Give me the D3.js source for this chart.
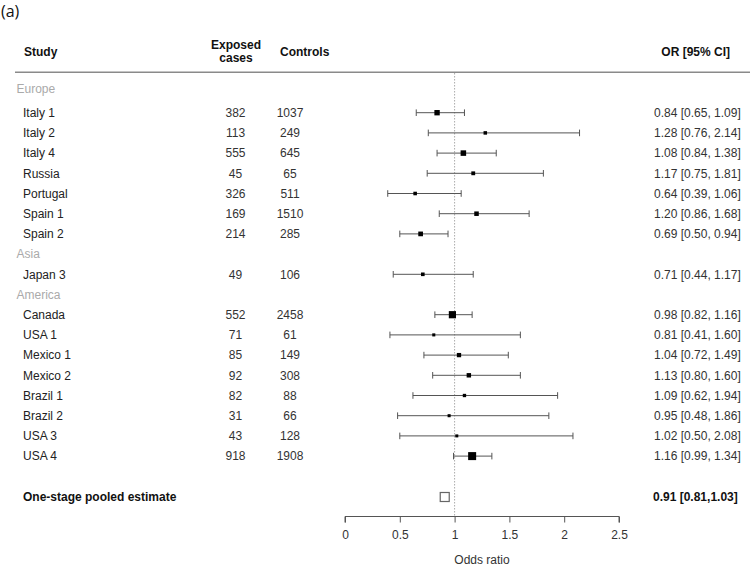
<!DOCTYPE html>
<html><head><meta charset="utf-8">
<script src="https://cdn.jsdelivr.net/npm/d3@7"></script>
<style>
html,body{margin:0;padding:0;background:#fff;}
svg{display:block;font-family:"Liberation Sans",Arial,sans-serif;}
</style></head>
<body><svg id="c" width="750" height="571"></svg>
<script>
// ---- data ----
const groups = ["Europe", "Asia", "America"];
const studies = ["Italy 1","Italy 2","Italy 4","Russia","Portugal","Spain 1","Spain 2",
                 "Japan 3",
                 "Canada","USA 1","Mexico 1","Mexico 2","Brazil 1","Brazil 2","USA 3","USA 4"];
const studyGroup = ["Europe","Europe","Europe","Europe","Europe","Europe","Europe",
                    "Asia",
                    "America","America","America","America","America","America","America","America"];
const exposedCases = [382,113,555,45,326,169,214, 49, 552,71,85,92,82,31,43,918];
const controls     = [1037,249,645,65,511,1510,285, 106, 2458,61,149,308,88,66,128,1908];
const oddsRatio = [0.84,1.28,1.08,1.17,0.64,1.20,0.69, 0.71, 0.98,0.81,1.04,1.13,1.09,0.95,1.02,1.16];
const ciLower   = [0.65,0.76,0.84,0.75,0.39,0.86,0.50, 0.44, 0.82,0.41,0.72,0.80,0.62,0.48,0.50,0.99];
const ciUpper   = [1.09,2.14,1.38,1.81,1.06,1.68,0.94, 1.17, 1.16,1.60,1.49,1.60,1.94,1.86,2.08,1.34];
const pooledLabel = "One-stage pooled estimate";
const pooledOR = 0.91, pooledLower = 0.81, pooledUpper = 1.03;
const axisTicks = [0, 0.5, 1, 1.5, 2, 2.5];

// ---- layout ----
const svg = d3.select("#c");
const x = d3.scaleLinear().domain([0, 2.5]).range([345, 619]);

// row order: group headers + studies
const rows = [];
groups.forEach(g => {
  rows.push({type:"group", label:g});
  studies.forEach((s,i) => { if (studyGroup[i] === g) rows.push({type:"study", i}); });
});
// row index -> y
const y = d3.scaleLinear().domain([1, 19]).range([112.7, 476.3]);
rows.forEach((r,k) => { r.y = y(k); });
rows[0].y = y(0) - 4.3; // Europe header sits slightly higher
const pooledY = 497;

const fmt = d3.format(".2f");
// marker size from precision of the estimate
const precision = studies.map((s,i) => 3.92 / (Math.log(ciUpper[i]) - Math.log(ciLower[i])));
const size = d3.scaleLinear().domain(d3.extent(precision)).range([3, 8]);

// title
svg.append("text").attr("x", 1).attr("y", 17).attr("font-size", 16)
   .attr("font-family", "'Open Sans','Liberation Sans',sans-serif").attr("fill", "#111").text("(a)");

// headers
const hdr = svg.append("g").attr("font-weight", "bold").attr("font-size", 12).attr("fill", "#111");
hdr.append("text").attr("x", 24).attr("y", 56).text("Study");
hdr.append("text").attr("x", 236).attr("y", 49).attr("text-anchor", "middle").text("Exposed");
hdr.append("text").attr("x", 236).attr("y", 62).attr("text-anchor", "middle").text("cases");
hdr.append("text").attr("x", 280).attr("y", 56).text("Controls");
hdr.append("text").attr("x", 730).attr("y", 56).attr("text-anchor", "end").text("OR [95% CI]");

svg.append("line").attr("x1", 15).attr("x2", 750).attr("y1", 72.3).attr("y2", 72.3)
   .attr("stroke", "#8a8a8a").attr("stroke-width", 1.5);

// reference line at OR = 1
svg.append("line").attr("x1", x(1)).attr("x2", x(1)).attr("y1", 73).attr("y2", 516)
   .attr("stroke", "#aaa").attr("stroke-width", 1).attr("stroke-dasharray", "1.5,1.5");

// rows
const g = svg.append("g").attr("font-size", 12);
rows.forEach(r => {
  const ty = r.y + 4.3;
  if (r.type === "group") {
    g.append("text").attr("x", 16.5).attr("y", ty).attr("fill", "#aaa").text(r.label);
    return;
  }
  const i = r.i;
  g.append("text").attr("x", 23).attr("y", ty).attr("fill", "#222").text(studies[i]);
  g.append("text").attr("x", 235.5).attr("y", ty).attr("text-anchor", "middle").attr("fill", "#333").text(exposedCases[i]);
  g.append("text").attr("x", 290).attr("y", ty).attr("text-anchor", "middle").attr("fill", "#333").text(controls[i]);
  g.append("text").attr("x", 654).attr("y", ty).attr("fill", "#333")
    .text(`${fmt(oddsRatio[i])} [${fmt(ciLower[i])}, ${fmt(ciUpper[i])}]`);
  // CI
  const ci = g.append("g").attr("stroke", "#555").attr("stroke-width", 1);
  ci.append("line").attr("x1", x(ciLower[i])).attr("x2", x(ciUpper[i])).attr("y1", r.y).attr("y2", r.y);
  ci.append("line").attr("x1", x(ciLower[i])).attr("x2", x(ciLower[i])).attr("y1", r.y-3.3).attr("y2", r.y+3.3);
  ci.append("line").attr("x1", x(ciUpper[i])).attr("x2", x(ciUpper[i])).attr("y1", r.y-3.3).attr("y2", r.y+3.3);
  const s = size(precision[i]);
  g.append("rect").attr("x", x(oddsRatio[i]) - s/2).attr("y", r.y - s/2)
    .attr("width", s).attr("height", s).attr("fill", "#000");
});

// pooled
svg.append("text").attr("x", 23).attr("y", pooledY + 4).attr("font-size", 12).attr("font-weight", "bold")
   .attr("fill", "#111").text(pooledLabel);
svg.append("rect").attr("x", x(pooledOR) - 4.5).attr("y", pooledY - 4.5).attr("width", 9).attr("height", 9)
   .attr("fill", "#fff").attr("stroke", "#666").attr("stroke-width", 1.2);
svg.append("text").attr("x", 653).attr("y", pooledY + 4).attr("font-size", 12).attr("font-weight", "bold")
   .attr("fill", "#111").text(`${fmt(pooledOR)} [${fmt(pooledLower)},${fmt(pooledUpper)}]`);

// axis
const axis = d3.axisBottom(x).tickValues(axisTicks).tickSize(6).tickPadding(8)
   .tickFormat(d => d3.format("")(d));
const ax = svg.append("g").attr("transform", "translate(0,516.5)").call(axis);
ax.select(".domain").attr("stroke", "#555").attr("d", `M${x(0)},6V0H${x(2.5)}V6`);
ax.selectAll(".tick line").attr("stroke", "#555");
ax.selectAll(".tick text").attr("font-size", 12).attr("fill", "#333")
  .attr("font-family", "'Liberation Sans',Arial,sans-serif");
svg.append("text").attr("x", x(1.25)).attr("y", 564).attr("text-anchor", "middle")
   .attr("font-size", 12).attr("fill", "#333").text("Odds ratio");
</script></body></html>
